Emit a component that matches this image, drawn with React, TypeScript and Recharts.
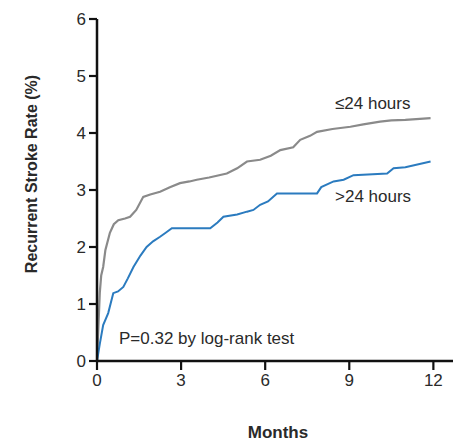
import React from 'react';
import { LineChart, Line, XAxis, YAxis } from 'recharts';

const shortMonths = [0, 0.05, 0.1, 0.15, 0.22, 0.3, 0.46, 0.6, 0.76, 1.0, 1.18, 1.4, 1.65, 1.9, 2.25, 2.6, 2.96, 3.3, 3.56, 4.0, 4.63, 5.0, 5.35, 5.82, 6.2, 6.54, 7.0, 7.25, 7.6, 7.85, 8.4, 9.04, 9.5, 10.1, 10.5, 11.0, 11.9];
const shortRates = [0, 0.6, 1.2, 1.5, 1.65, 1.95, 2.25, 2.4, 2.47, 2.5, 2.53, 2.65, 2.88, 2.92, 2.97, 3.05, 3.12, 3.15, 3.18, 3.22, 3.29, 3.38, 3.5, 3.53, 3.6, 3.7, 3.75, 3.88, 3.95, 4.02, 4.07, 4.11, 4.15, 4.2, 4.22, 4.23, 4.26];

const longMonths = [0, 0.1, 0.22, 0.4, 0.58, 0.75, 0.94, 1.1, 1.3, 1.55, 1.77, 2.0, 2.25, 2.45, 2.67, 3.0, 4.04, 4.3, 4.51, 5.0, 5.35, 5.58, 5.82, 6.1, 6.42, 7.85, 8.0, 8.44, 8.8, 9.15, 10.35, 10.58, 11.0, 11.9];
const longRates = [0, 0.3, 0.63, 0.84, 1.19, 1.22, 1.3, 1.45, 1.65, 1.85, 2.0, 2.1, 2.18, 2.25, 2.33, 2.33, 2.33, 2.43, 2.53, 2.57, 2.62, 2.65, 2.74, 2.8, 2.94, 2.94, 3.05, 3.15, 3.18, 3.26, 3.29, 3.38, 3.4, 3.5];

const xTicks = [0, 3, 6, 9, 12];
const yTicks = [0, 1, 2, 3, 4, 5, 6];

const shortData = shortMonths.map((m, i) => ({ month: m, rate: shortRates[i] }));
const longData = longMonths.map((m, i) => ({ month: m, rate: longRates[i] }));

const font = '"Liberation Sans", Arial, sans-serif';
const tickStyle = { fontSize: 17, fill: '#2a2a2a', fontFamily: font };

export default function App() {
  return (
    <div style={{ position: 'absolute', left: 0, top: 0, width: 453, height: 441, background: '#fff', fontFamily: font }}>
      <LineChart width={453} height={441} margin={{ top: 19, right: 0, bottom: 50, left: 0 }}>
        <XAxis
          type="number"
          dataKey="month"
          domain={[0, 12.7]}
          ticks={xTicks}
          height={30}
          fontSize={17}
          allowDuplicatedCategory={false}
          axisLine={{ stroke: '#111', strokeWidth: 2.5 }}
          tickLine={{ stroke: '#111', strokeWidth: 2.2 }}
          tickSize={9}
          tickMargin={4}
          tick={tickStyle}
        />
        <YAxis
          type="number"
          domain={[0, 6]}
          ticks={yTicks}
          width={97}
          fontSize={17}
          axisLine={{ stroke: '#111', strokeWidth: 2.5 }}
          tickLine={{ stroke: '#111', strokeWidth: 2.2 }}
          tickSize={8}
          tickMargin={3}
          tick={tickStyle}
        />
        <Line data={shortData} dataKey="rate" type="linear" stroke="#8a8a8a" strokeWidth={2.2} dot={false} isAnimationActive={false} />
        <Line data={longData} dataKey="rate" type="linear" stroke="#2b7bbf" strokeWidth={2} dot={false} isAnimationActive={false} />
      </LineChart>
      <div style={{ position: 'absolute', left: 335, top: 94, fontSize: 17, color: '#2a2a2a', whiteSpace: 'nowrap' }}>≤24 hours</div>
      <div style={{ position: 'absolute', left: 335, top: 187, fontSize: 17, color: '#2a2a2a', whiteSpace: 'nowrap' }}>&gt;24 hours</div>
      <div style={{ position: 'absolute', left: 119, top: 329, fontSize: 17, color: '#2a2a2a', whiteSpace: 'nowrap' }}>P=0.32 by log-rank test</div>
      <div style={{ position: 'absolute', left: 278, top: 423, transform: 'translateX(-50%)', fontSize: 17, fontWeight: 'bold', color: '#2a2a2a', whiteSpace: 'nowrap' }}>
        Months
      </div>
      <div style={{ position: 'absolute', left: 32, top: 174, transform: 'translate(-50%, -50%) rotate(-90deg)', fontSize: 16, fontWeight: 'bold', color: '#2a2a2a', whiteSpace: 'nowrap' }}>
        Recurrent Stroke Rate (%)
      </div>
    </div>
  );
}
